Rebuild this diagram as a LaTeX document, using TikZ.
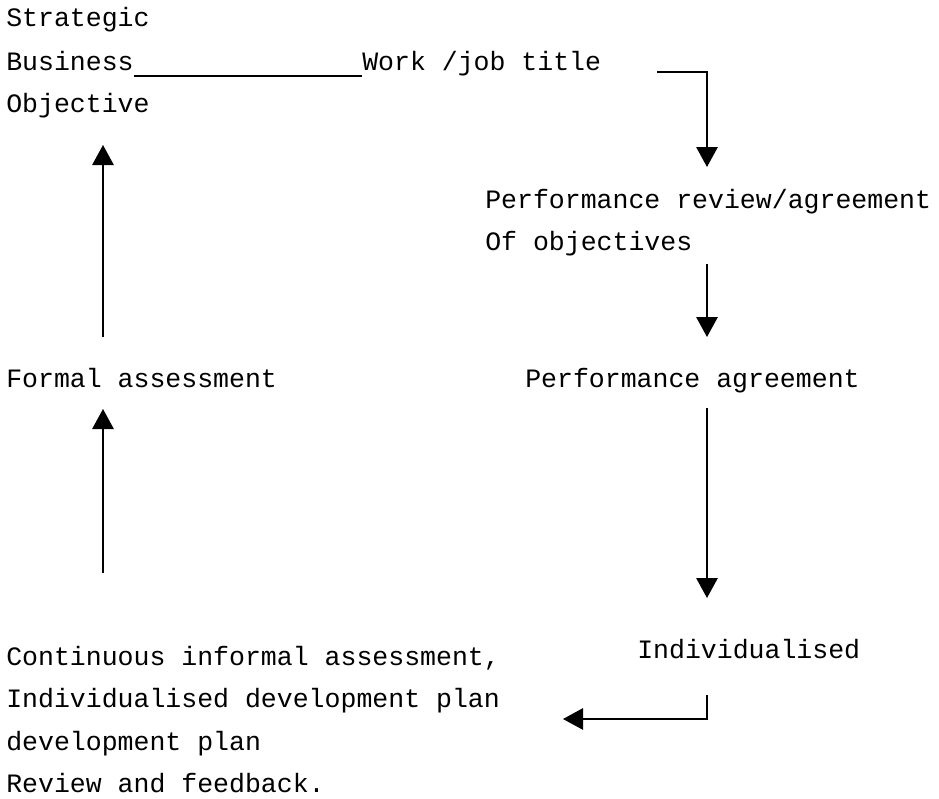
\documentclass[tikz,border=0pt]{standalone}
\usepackage{fontspec}
\newfontfamily\typewriter{Liberation Mono}
\usepackage{tikz}
\usetikzlibrary{arrows.meta,positioning,calc}

\newcommand{\diagfont}{\typewriter\fontsize{19.9}{24}\selectfont}

\begin{document}
\begin{tikzpicture}[
    x=0.75pt, y=-0.75pt,
    every node/.style={font=\diagfont, inner sep=0pt, anchor=base west},
    flow/.style={-{Triangle[length=15pt,width=16pt]}, line width=1.4pt},
    rule/.style={line width=0.9pt}
]
\useasboundingbox (0,0) rectangle (939,799);

% text blocks
\node (strategic) at (6,27) {Strategic};
\node (business) at (6,70) {Business};
\node (objective) at (6,113) {Objective};
\node (work) at (362,70) {Work /job title};

\node (review) at (485,208) {Performance review/agreement};
\node (ofobj) at (485,250) {Of objectives};
\node (agreement) at (525,387) {Performance agreement};
\node (individ) at (637,658) {Individualised};

\node (formal) at (6,387) {Formal assessment};
\node (cont) at (6,665) {Continuous informal assessment,};
\node (idp) at (6,707) {Individualised development plan};
\node (devplan) at (6,750) {development plan};
\node (feedback) at (6,792) {Review and feedback.};

% arrow ends
\coordinate (workout) at (657,72);
\coordinate (reviewin) at (707,167);
\coordinate (ofobjout) at (707,264);
\coordinate (agreein) at (707,337);
\coordinate (agreeout) at (707,408);
\coordinate (individin) at (707,598);
\coordinate (individout) at (707,695);
\coordinate (idpin) at (563,719);
\coordinate (contout) at (103,573);
\coordinate (formalin) at (103,409);
\coordinate (formalout) at (103,337);
\coordinate (objin) at (103,145);

% connectors
\draw[rule] ([yshift=-4.5pt]business.base east) -- ([yshift=-4.5pt]work.base west);
\draw[flow] (workout) -| (reviewin);
\draw[flow] (ofobjout) -- (agreein);
\draw[flow] (agreeout) -- (individin);
\draw[flow] (individout) |- (idpin);
\draw[flow] (contout) -- (formalin);
\draw[flow] (formalout) -- (objin);

\end{tikzpicture}
\end{document}
